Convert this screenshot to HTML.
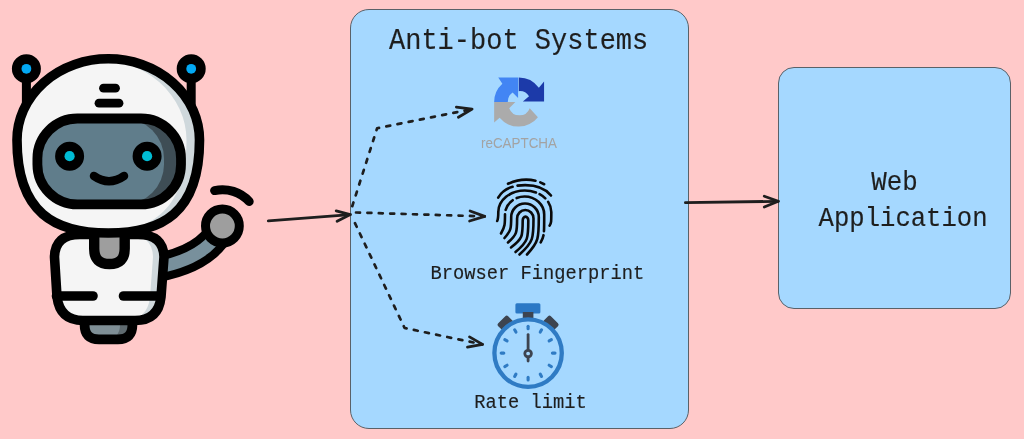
<!DOCTYPE html>
<html><head><meta charset="utf-8">
<style>
html,body{margin:0;padding:0;}
body{width:1024px;height:439px;background:#ffc9c9;position:relative;overflow:hidden;font-family:"Liberation Mono",monospace;color:#1e1e1e;}
.box{position:absolute;background:#a5d8ff;border:1.7px solid #5a6168;box-sizing:border-box;}
.t{position:absolute;white-space:nowrap;line-height:1;transform-origin:0 0;-webkit-text-stroke:0.15px #1e1e1e;}
svg{position:absolute;left:0;top:0;}
</style></head>
<body>
<div class="box" style="left:350px;top:9px;width:338.8px;height:420px;border-radius:19px;"></div>
<div class="box" style="left:778px;top:67px;width:233px;height:242px;border-radius:16px;"></div>


<svg id="robot" style="filter:blur(0.45px)" width="1024" height="439" viewBox="0 0 1024 439">
 <defs>
  <clipPath id="cHead"><path d="M17 140 A91 81 0 0 1 199.5 140 C199.5 213.5 161.3 233 108.3 233 C55.3 233 17 213.5 17 140 Z"/></clipPath>
  <clipPath id="cVis"><rect x="37.4" y="118.5" width="143.6" height="85.9" rx="40" ry="40"/></clipPath>
  <clipPath id="cBody"><path d="M80 234.5 L138 234.5 Q163.5 234.5 164 257 L161 297 Q158.5 320.5 135 320.5 L83 320.5 Q60 320.5 57 297 L54.5 257 Q55 234.5 80 234.5 Z"/></clipPath>
  <clipPath id="cFoot"><path d="M84.6 312 L84.6 325 Q84.6 339.4 99 339.4 L118 339.4 Q132.4 339.4 132.4 325 L132.4 312 Z"/></clipPath>
 </defs>
 <g stroke="#000" stroke-width="9" stroke-linecap="round" stroke-linejoin="round">
  <line x1="26.4" y1="69" x2="26.4" y2="115" />
  <line x1="191.2" y1="69" x2="191.2" y2="115" />
  <circle cx="26.4" cy="68.8" r="10" fill="#000"/>
  <circle cx="191.2" cy="68.8" r="10" fill="#000"/>
  <path d="M155 268 Q208 258.5 222.4 226" fill="none" stroke-width="29"/>
  <path d="M155 268 Q208 258.5 222.4 226" fill="none" stroke="#78909c" stroke-width="12.5" stroke-linecap="butt"/>
  <circle cx="222.4" cy="226" r="16.9" fill="#9e9e9e"/>
  <path d="M214.6 190.6 A36.2 36.2 0 0 1 249.2 201.5" fill="none" stroke-width="9"/>
 </g>
 <path d="M84.6 312 L84.6 325 Q84.6 339.4 99 339.4 L118 339.4 Q132.4 339.4 132.4 325 L132.4 312 Z" fill="#5f6b70"/>
 <path d="M70 312 L70 325 Q70 339.4 85 339.4 L104 339.4 Q120 339.4 120 325 L120 312 Z" fill="#7f8f96" clip-path="url(#cFoot)"/>
 <path d="M84.6 312 L84.6 325 Q84.6 339.4 99 339.4 L118 339.4 Q132.4 339.4 132.4 325 L132.4 312 Z" fill="none" stroke="#000" stroke-width="9.8" stroke-linejoin="round"/>
 <path d="M80 234.5 L138 234.5 Q163.5 234.5 164 257 L161 297 Q158.5 320.5 135 320.5 L83 320.5 Q60 320.5 57 297 L54.5 257 Q55 234.5 80 234.5 Z" fill="#cfd8dc"/>
 <path d="M69 234.5 L127 234.5 Q152.5 234.5 153 257 L150 297 Q147.5 320.5 124 320.5 L72 320.5 Q49 320.5 46 297 L43.5 257 Q44 234.5 69 234.5 Z" fill="#f5f5f5" clip-path="url(#cBody)"/>
 <g stroke="#000" stroke-width="9.6" stroke-linecap="round" stroke-linejoin="round">
  <path d="M80 234.5 L138 234.5 Q163.5 234.5 164 257 L161 297 Q158.5 320.5 135 320.5 L83 320.5 Q60 320.5 57 297 L54.5 257 Q55 234.5 80 234.5 Z" fill="none"/>
  <path d="M94.2 222 L94.2 248.8 Q94.2 264 109.45 264 Q124.7 264 124.7 248.8 L124.7 222 Z" fill="#9e9e9e" stroke-width="10.4"/>
  <line x1="56.5" y1="296" x2="93" y2="296"/>
  <line x1="123.5" y1="296" x2="160" y2="296"/>
 </g>
 <path d="M17 140 A91 81 0 0 1 199.5 140 C199.5 213.5 161.3 233 108.3 233 C55.3 233 17 213.5 17 140 Z" fill="#cfd8dc"/>
 <g clip-path="url(#cHead)"><path d="M17 140 A91 81 0 0 1 199.5 140 C199.5 213.5 161.3 233 108.3 233 C55.3 233 17 213.5 17 140 Z" transform="translate(-13 0)" fill="#f5f5f5"/></g>
 <path d="M17 140 A91 81 0 0 1 199.5 140 C199.5 213.5 161.3 233 108.3 233 C55.3 233 17 213.5 17 140 Z" fill="none" stroke="#000" stroke-width="9.6"/>
 <rect x="37.4" y="118.5" width="143.6" height="85.9" rx="40" ry="40" fill="#3e4d55"/>
 <rect x="20" y="118.5" width="144" height="85.9" rx="40" ry="40" fill="#607d8b" clip-path="url(#cVis)"/>
 <rect x="37.4" y="118.5" width="143.6" height="85.9" rx="40" ry="40" fill="none" stroke="#000" stroke-width="9.8"/>
 <g stroke="#000" stroke-width="9" stroke-linecap="round" stroke-linejoin="round">
  <circle cx="69.6" cy="156.2" r="10" fill="#000"/>
  <circle cx="147.1" cy="156.2" r="10" fill="#000"/>
  <path d="M94 176 Q109 186.5 124 176" fill="none" stroke-width="8.5"/>
  <line x1="103.5" y1="88.2" x2="115.5" y2="88.2" stroke-width="8.8"/>
  <line x1="99" y1="103.2" x2="119" y2="103.2" stroke-width="8.8"/>
 </g>
 <circle cx="26.4" cy="68.8" r="4.9" fill="#03a9f4"/>
 <circle cx="191.2" cy="68.8" r="4.9" fill="#03a9f4"/>
 <circle cx="69.6" cy="156.2" r="5.1" fill="#00bcd4"/>
 <circle cx="147.1" cy="156.2" r="5.1" fill="#00bcd4"/>
</svg>

<svg width="1024" height="439" viewBox="0 0 1024 439">
 <g transform="translate(488 72) scale(0.13675)">
  <path d="M225 40 A180 180 0 0 1 372 116 L410 70 L410 215 L255 215 L300 178 A80 80 0 0 0 225 140 Z" fill="#1c3aa9"/>
  <path d="M45 220 A180 180 0 0 1 105 86 L75 40 L220 40 L220 190 L180 150 A80 80 0 0 0 145 220 Z" fill="#4285f4"/>
  <path d="M45 220 L200 220 L155 265 A80 80 0 0 0 305 265 L365 330 A180 180 0 0 1 85 335 L45 370 Z" fill="#ababab"/>
 </g>
</svg>
<svg width="1024" height="439" viewBox="0 0 1024 439"><g fill="none" stroke="#0a0a0a" stroke-width="2.6" stroke-linecap="round"><path d="M511.0 247.5 C522.7 238.9 522.7 236.0 522.7 220.5 A2.8 3.9 0 0 1 528.3 220.5 C528.3 238.0 528.3 241.5 515.5 252.0" /><path d="M508.0 242.5 C517.1 234.6 517.1 232.0 517.1 218.5 A8.2 8.5 0 0 1 533.5 218.5 C533.5 238.0 533.5 242.1 519.5 254.5" /><path d="M504.5 238.0 C511.2 230.5 511.2 228.0 511.2 217.0 A13.8 13.5 0 0 1 538.8 217.0 C538.8 238.0 538.8 242.1 527.0 254.5" /><path d="M501.0 233.5 C505.0 226.4 505.0 224.0 505.0 214.5 A19.6 18.0 0 0 1 544.2 214.5 C544.2 234.0 544.2 236.1 540.7 242.4" stroke-dasharray="20 4.5 12 4.5 54 4 300"/><path d="M497.2 221.0 C498.3 218.8 498.3 218.0 498.3 212.0 A26.5 21.5 0 0 1 551.3 212.0 C551.3 222.0 551.3 222.9 549.6 225.6" stroke-dasharray="58 4 7 4.5 300"/><path d="M498.2 197.6 Q503 189.5 512.6 186.8"/><path d="M517.5 185.6 Q541 183 551 195.5"/><path d="M508 183.8 Q522 177.5 535.5 180.8"/><path d="M540.3 182.4 L544.2 184.2"/></g></svg>
<svg width="1024" height="439" viewBox="0 0 1024 439">
 <rect x="515.4" y="303.3" width="25" height="10.1" rx="1.5" fill="#2b78c5"/>
 <rect x="522.8" y="312" width="10.6" height="7" fill="#3d4450"/>
 <rect x="-7" y="-5" width="14" height="10" rx="2" fill="#3d4450" transform="translate(505.3 323.3) rotate(-45)"/>
 <rect x="-7" y="-5" width="14" height="10" rx="2" fill="#3d4450" transform="translate(550.9 323.3) rotate(45)"/>
 <circle cx="528.1" cy="353.1" r="33.7" fill="#a5d8ff" stroke="#2f7bc4" stroke-width="4.3"/>
 <g stroke="#2f7bc4" stroke-width="3.1" stroke-linecap="round"><line x1="528.10" y1="328.80" x2="528.10" y2="326.20"/><line x1="540.25" y1="332.06" x2="541.55" y2="329.80"/><line x1="549.14" y1="340.95" x2="551.40" y2="339.65"/><line x1="552.40" y1="353.10" x2="555.00" y2="353.10"/><line x1="549.14" y1="365.25" x2="551.40" y2="366.55"/><line x1="540.25" y1="374.14" x2="541.55" y2="376.40"/><line x1="528.10" y1="377.40" x2="528.10" y2="380.00"/><line x1="515.95" y1="374.14" x2="514.65" y2="376.40"/><line x1="507.06" y1="365.25" x2="504.80" y2="366.55"/><line x1="503.80" y1="353.10" x2="501.20" y2="353.10"/><line x1="507.06" y1="340.95" x2="504.80" y2="339.65"/><line x1="515.95" y1="332.06" x2="514.65" y2="329.80"/></g>
 <g stroke="#3d4450" stroke-width="2.8" stroke-linecap="round" fill="none">
  <line x1="528.1" y1="334.6" x2="528.1" y2="349"/>
  <line x1="528.1" y1="357" x2="528.1" y2="361"/>
  <circle cx="528.1" cy="353.6" r="3.3" stroke-width="2.8"/>
 </g>
</svg>
<div class="t" id="title" style="left:389px;top:26.5px;font-size:27px;transform:scaleY(1.107);">Anti-bot Systems</div>
<div class="t" id="bf" style="left:430.5px;top:262.6px;font-size:18.75px;transform:scaleY(1.11);">Browser Fingerprint</div>
<div class="t" id="rl" style="left:474.3px;top:391.9px;font-size:18.76px;transform:scaleY(1.108);">Rate limit</div>
<div class="t" id="web" style="left:871.2px;top:168.5px;font-size:25.85px;transform:scaleY(1.086);">Web</div>
<div class="t" id="app" style="left:818.6px;top:204.6px;font-size:25.6px;transform:scaleY(1.096);">Application</div>
<div class="t" id="rc" style="left:480.6px;top:134.6px;font-size:15.5px;transform:scaleX(0.865);font-family:'Liberation Sans',sans-serif;color:#a3a3a3;-webkit-text-stroke:0;">reCAPTCHA</div>

<svg width="1024" height="439" viewBox="0 0 1024 439">
  <g fill="none" stroke="#1e1e1e" stroke-width="2.8" stroke-linecap="round" stroke-linejoin="round">
    <path d="M268.3 220.8 L350.3 214.6"/>
    <path d="M336.2 210.9 L350.3 214.6 L337.1 221.3"/>
    <path d="M685.4 202.7 L778.3 201.3"/>
    <path d="M764.3 196.3 L778.3 201.3 L764.3 207"/>
  </g>
  <g fill="none" stroke="#1e1e1e" stroke-width="2.7" stroke-linecap="round" stroke-linejoin="round" stroke-dasharray="4.0 7.4">
    <path d="M356 212.5 L484.7 216.4"/>
    <path d="M352 207 L377.1 128.3 L472.1 109.1" stroke-dashoffset="10.6"/>
    <path d="M353 219 L404.6 328 L482.5 344.4" stroke-dashoffset="6.8"/>
  </g>
  <g fill="none" stroke="#1e1e1e" stroke-width="2.8" stroke-linecap="round" stroke-linejoin="round">
    <path d="M456.4 107.1 L472.1 109.1 L458.4 117.3"/>
    <path d="M470.1 211 L484.7 216.4 L469.6 221"/>
    <path d="M469.5 336.9 L482.5 344.4 L467.5 347.2"/>
  </g>
</svg>
</body></html>
